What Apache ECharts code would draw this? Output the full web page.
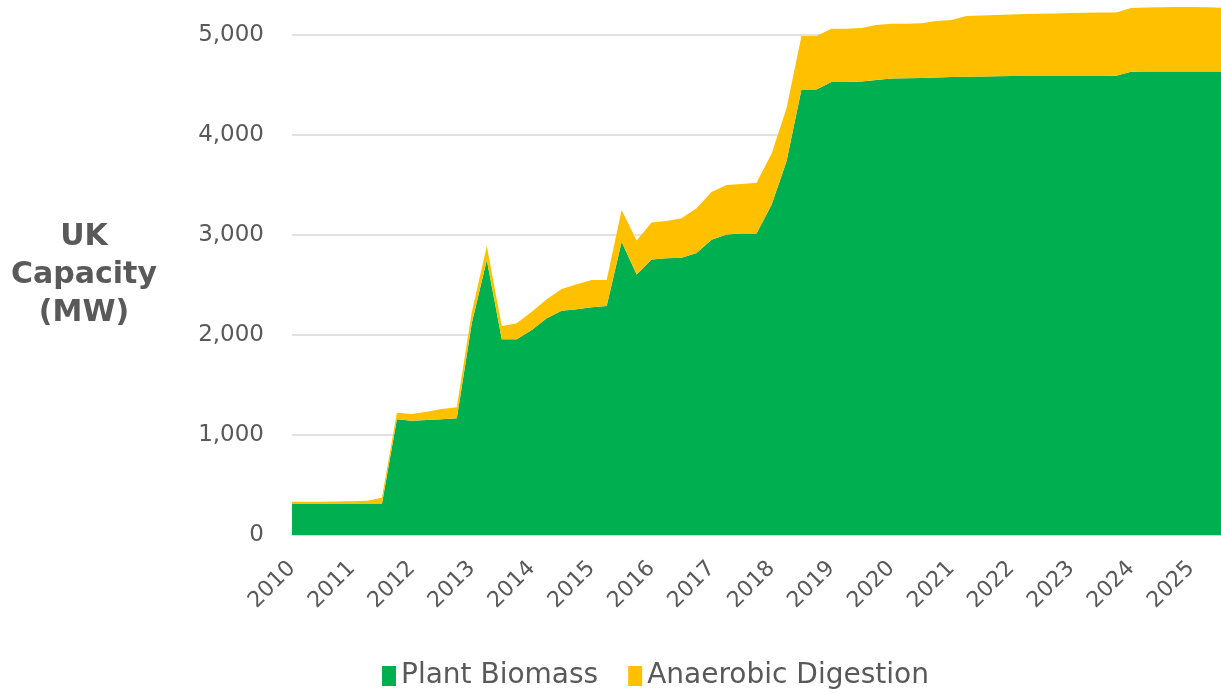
<!DOCTYPE html>
<html>
<head>
<meta charset="utf-8">
<script src="https://cdn.jsdelivr.net/npm/echarts@6/dist/echarts.min.js"></script>
<style>
  html, body { margin: 0; padding: 0; background: #fff; }
  #chart { width: 1221px; height: 693px; }
</style>
</head>
<body>
<div id="chart"></div>
<script>
"use strict";

// Year labels shown on the axis; data is quarterly, 2010 Q1 to 2025 Q3.
const YEARS = [2010, 2011, 2012, 2013, 2014, 2015, 2016, 2017,
  2018, 2019, 2020, 2021, 2022, 2023, 2024, 2025];
const QUARTERS_IN_LAST_YEAR = 3;

// Capacity in MW per quarter.
const PLANT_BIOMASS = [
  310, 310, 310, 310, 310, 310, 310, 1157, 1143, 1150, 1157, 1167,
  2120, 2750, 1957, 1957, 2050, 2167, 2243, 2257, 2277, 2290, 2933, 2605,
  2755, 2767, 2773, 2820, 2953, 3005, 3015, 3015, 3300, 3735, 4455, 4455,
  4530, 4530, 4535, 4550, 4565, 4568, 4570, 4575, 4580, 4582, 4585, 4588,
  4590, 4590, 4590, 4590, 4590, 4590, 4590, 4592, 4633, 4635, 4635, 4635,
  4635, 4635, 4635,
];
const ANAEROBIC_DIGESTION = [
  23, 23, 23, 25, 28, 33, 62, 66, 67, 83, 103, 110,
  110, 140, 133, 160, 183, 190, 217, 250, 273, 260, 317, 340,
  370, 373, 394, 447, 477, 495, 495, 507, 510, 530, 535, 535,
  533, 533, 535, 550, 548, 545, 547, 565, 570, 607, 610, 612,
  615, 620, 623, 626, 629, 632, 634, 634, 637, 639, 642, 645,
  645, 643, 637,
];

const Y_TICKS = { min: 0, max: 5350, interval: 1000 };
const Y_TITLE = "UK\nCapacity\n(MW)";

const GREEN = "#00B050";
const GOLD = "#FFC000";
const TEXT = "#595959";
const GRID_LINE = "#D9D9D9";
const FONT = "DejaVu Sans";

// Category per quarter, e.g. "2010 Q1".
const categories = [];
YEARS.forEach((y, i) => {
  const n = i === YEARS.length - 1 ? QUARTERS_IN_LAST_YEAR : 4;
  for (let q = 1; q <= n; q++) categories.push(y + " Q" + q);
});

const chart = echarts.init(document.getElementById("chart"), null, { renderer: "canvas" });

chart.setOption({
  animation: false,
  backgroundColor: "#ffffff",
  textStyle: { fontFamily: FONT, color: TEXT },
  grid: { left: 292, right: 0, top: 0, bottom: 158, containLabel: false },
  // Horizontal axis title sits left of the value labels, like the source.
  graphic: [
    {
      type: "text",
      x: 84,
      y: 275,
      style: {
        text: Y_TITLE,
        fill: TEXT,
        font: "bold 30px '" + FONT + "'",
        lineHeight: 38,
        align: "center",
        verticalAlign: "middle",
      },
    },
  ],
  legend: {
    left: 377,
    top: 657,
    itemWidth: 14,
    itemHeight: 20,
    itemGap: 30,
    icon: "rect",
    textStyle: { fontFamily: FONT, fontSize: 28, color: TEXT },
    data: ["Plant Biomass", "Anaerobic Digestion"],
  },
  xAxis: {
    type: "category",
    data: categories,
    boundaryGap: false,
    axisLine: { lineStyle: { color: GRID_LINE, width: 1.5 } },
    axisTick: { show: false },
    splitLine: { show: false },
    axisLabel: {
      interval: 3,
      rotate: 45,
      margin: 30,
      fontFamily: FONT,
      fontSize: 22,
      color: TEXT,
      formatter: (v) => v.slice(0, 4),
    },
  },
  yAxis: {
    type: "value",
    min: Y_TICKS.min,
    max: Y_TICKS.max,
    interval: Y_TICKS.interval,
    axisLine: { show: false },
    axisTick: { show: false },
    splitLine: { show: true, showMaxLine: false, lineStyle: { color: GRID_LINE, width: 1.5 } },
    axisLabel: {
      margin: 28,
      showMaxLabel: false,
      fontFamily: FONT,
      fontSize: 23,
      color: TEXT,
      formatter: (v) => v.toLocaleString("en-US"),
    },
  },
  series: [
    {
      name: "Plant Biomass",
      type: "line",
      stack: "capacity",
      data: PLANT_BIOMASS,
      symbol: "none",
      lineStyle: { width: 0 },
      itemStyle: { color: GREEN },
      areaStyle: { color: GREEN, opacity: 1 },
    },
    {
      name: "Anaerobic Digestion",
      type: "line",
      stack: "capacity",
      data: ANAEROBIC_DIGESTION,
      symbol: "none",
      lineStyle: { width: 0 },
      itemStyle: { color: GOLD },
      areaStyle: { color: GOLD, opacity: 1 },
    },
  ],
});
</script>
</body>
</html>
